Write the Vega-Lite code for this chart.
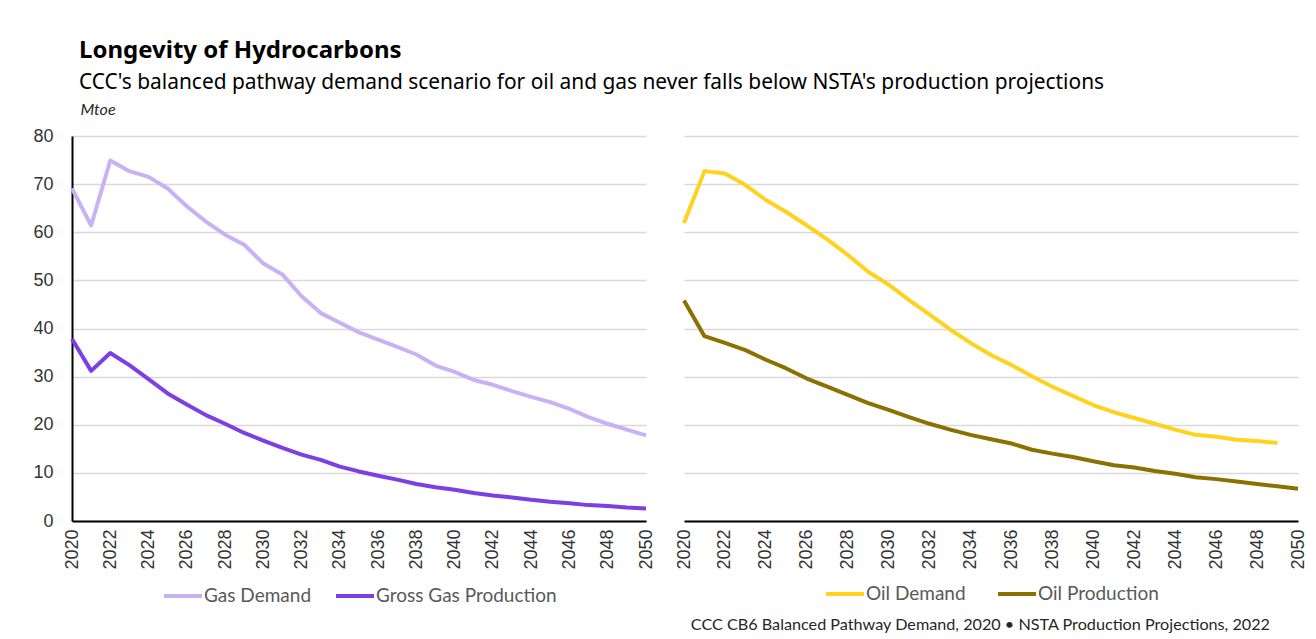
{
  "$schema": "https://vega.github.io/schema/vega-lite/v6.json",
  "padding": {"left": 32, "top": 39, "right": 8, "bottom": 4},
  "background": "white",
  "title": {
    "text": "Longevity of Hydrocarbons",
    "subtitle": "CCC's balanced pathway demand scenario for oil and gas never falls below NSTA's production projections",
    "anchor": "start",
    "frame": "bounds",
    "dx": 46,
    "font": "Noto Sans",
    "fontSize": 24,
    "fontWeight": "bold",
    "color": "#000000",
    "subtitleFont": "Noto Sans",
    "subtitleFontSize": 20.9,
    "subtitleColor": "#000000",
    "subtitlePadding": 9,
    "offset": 8
  },
  "datasets": {
    "gas": [
      {"year": 2020, "series": "Gas Demand", "value": 69.1},
      {"year": 2021, "series": "Gas Demand", "value": 61.4},
      {"year": 2022, "series": "Gas Demand", "value": 74.9},
      {"year": 2023, "series": "Gas Demand", "value": 72.7},
      {"year": 2024, "series": "Gas Demand", "value": 71.5},
      {"year": 2025, "series": "Gas Demand", "value": 69.1},
      {"year": 2026, "series": "Gas Demand", "value": 65.4},
      {"year": 2027, "series": "Gas Demand", "value": 62.2},
      {"year": 2028, "series": "Gas Demand", "value": 59.5},
      {"year": 2029, "series": "Gas Demand", "value": 57.4},
      {"year": 2030, "series": "Gas Demand", "value": 53.5},
      {"year": 2031, "series": "Gas Demand", "value": 51.2},
      {"year": 2032, "series": "Gas Demand", "value": 46.7},
      {"year": 2033, "series": "Gas Demand", "value": 43.2},
      {"year": 2034, "series": "Gas Demand", "value": 41.2},
      {"year": 2035, "series": "Gas Demand", "value": 39.2},
      {"year": 2036, "series": "Gas Demand", "value": 37.7},
      {"year": 2037, "series": "Gas Demand", "value": 36.2},
      {"year": 2038, "series": "Gas Demand", "value": 34.6},
      {"year": 2039, "series": "Gas Demand", "value": 32.3},
      {"year": 2040, "series": "Gas Demand", "value": 31.0},
      {"year": 2041, "series": "Gas Demand", "value": 29.3},
      {"year": 2042, "series": "Gas Demand", "value": 28.3},
      {"year": 2043, "series": "Gas Demand", "value": 27.0},
      {"year": 2044, "series": "Gas Demand", "value": 25.8},
      {"year": 2045, "series": "Gas Demand", "value": 24.7},
      {"year": 2046, "series": "Gas Demand", "value": 23.3},
      {"year": 2047, "series": "Gas Demand", "value": 21.6},
      {"year": 2048, "series": "Gas Demand", "value": 20.2},
      {"year": 2049, "series": "Gas Demand", "value": 19.0},
      {"year": 2050, "series": "Gas Demand", "value": 17.8},
      {"year": 2020, "series": "Gross Gas Production", "value": 37.8},
      {"year": 2021, "series": "Gross Gas Production", "value": 31.2},
      {"year": 2022, "series": "Gross Gas Production", "value": 34.9},
      {"year": 2023, "series": "Gross Gas Production", "value": 32.4},
      {"year": 2024, "series": "Gross Gas Production", "value": 29.5},
      {"year": 2025, "series": "Gross Gas Production", "value": 26.5},
      {"year": 2026, "series": "Gross Gas Production", "value": 24.2},
      {"year": 2027, "series": "Gross Gas Production", "value": 22.0},
      {"year": 2028, "series": "Gross Gas Production", "value": 20.2},
      {"year": 2029, "series": "Gross Gas Production", "value": 18.3},
      {"year": 2030, "series": "Gross Gas Production", "value": 16.7},
      {"year": 2031, "series": "Gross Gas Production", "value": 15.2},
      {"year": 2032, "series": "Gross Gas Production", "value": 13.8},
      {"year": 2033, "series": "Gross Gas Production", "value": 12.7},
      {"year": 2034, "series": "Gross Gas Production", "value": 11.3},
      {"year": 2035, "series": "Gross Gas Production", "value": 10.3},
      {"year": 2036, "series": "Gross Gas Production", "value": 9.4},
      {"year": 2037, "series": "Gross Gas Production", "value": 8.6},
      {"year": 2038, "series": "Gross Gas Production", "value": 7.7},
      {"year": 2039, "series": "Gross Gas Production", "value": 7.0},
      {"year": 2040, "series": "Gross Gas Production", "value": 6.5},
      {"year": 2041, "series": "Gross Gas Production", "value": 5.8},
      {"year": 2042, "series": "Gross Gas Production", "value": 5.3},
      {"year": 2043, "series": "Gross Gas Production", "value": 4.9},
      {"year": 2044, "series": "Gross Gas Production", "value": 4.4},
      {"year": 2045, "series": "Gross Gas Production", "value": 4.0},
      {"year": 2046, "series": "Gross Gas Production", "value": 3.7},
      {"year": 2047, "series": "Gross Gas Production", "value": 3.3},
      {"year": 2048, "series": "Gross Gas Production", "value": 3.1},
      {"year": 2049, "series": "Gross Gas Production", "value": 2.8},
      {"year": 2050, "series": "Gross Gas Production", "value": 2.6}
    ],
    "oil": [
      {"year": 2020, "series": "Oil Demand", "value": 61.9},
      {"year": 2021, "series": "Oil Demand", "value": 72.7},
      {"year": 2022, "series": "Oil Demand", "value": 72.2},
      {"year": 2023, "series": "Oil Demand", "value": 69.8},
      {"year": 2024, "series": "Oil Demand", "value": 66.7},
      {"year": 2025, "series": "Oil Demand", "value": 64.2},
      {"year": 2026, "series": "Oil Demand", "value": 61.4},
      {"year": 2027, "series": "Oil Demand", "value": 58.5},
      {"year": 2028, "series": "Oil Demand", "value": 55.3},
      {"year": 2029, "series": "Oil Demand", "value": 51.8},
      {"year": 2030, "series": "Oil Demand", "value": 49.1},
      {"year": 2031, "series": "Oil Demand", "value": 45.9},
      {"year": 2032, "series": "Oil Demand", "value": 42.9},
      {"year": 2033, "series": "Oil Demand", "value": 39.8},
      {"year": 2034, "series": "Oil Demand", "value": 37.0},
      {"year": 2035, "series": "Oil Demand", "value": 34.5},
      {"year": 2036, "series": "Oil Demand", "value": 32.4},
      {"year": 2037, "series": "Oil Demand", "value": 30.1},
      {"year": 2038, "series": "Oil Demand", "value": 27.9},
      {"year": 2039, "series": "Oil Demand", "value": 26.0},
      {"year": 2040, "series": "Oil Demand", "value": 24.1},
      {"year": 2041, "series": "Oil Demand", "value": 22.6},
      {"year": 2042, "series": "Oil Demand", "value": 21.4},
      {"year": 2043, "series": "Oil Demand", "value": 20.2},
      {"year": 2044, "series": "Oil Demand", "value": 19.0},
      {"year": 2045, "series": "Oil Demand", "value": 17.9},
      {"year": 2046, "series": "Oil Demand", "value": 17.5},
      {"year": 2047, "series": "Oil Demand", "value": 16.9},
      {"year": 2048, "series": "Oil Demand", "value": 16.6},
      {"year": 2049, "series": "Oil Demand", "value": 16.2},
      {"year": 2020, "series": "Oil Production", "value": 45.8},
      {"year": 2021, "series": "Oil Production", "value": 38.4},
      {"year": 2022, "series": "Oil Production", "value": 37.0},
      {"year": 2023, "series": "Oil Production", "value": 35.5},
      {"year": 2024, "series": "Oil Production", "value": 33.5},
      {"year": 2025, "series": "Oil Production", "value": 31.7},
      {"year": 2026, "series": "Oil Production", "value": 29.6},
      {"year": 2027, "series": "Oil Production", "value": 27.9},
      {"year": 2028, "series": "Oil Production", "value": 26.2},
      {"year": 2029, "series": "Oil Production", "value": 24.5},
      {"year": 2030, "series": "Oil Production", "value": 23.1},
      {"year": 2031, "series": "Oil Production", "value": 21.6},
      {"year": 2032, "series": "Oil Production", "value": 20.2},
      {"year": 2033, "series": "Oil Production", "value": 19.0},
      {"year": 2034, "series": "Oil Production", "value": 17.9},
      {"year": 2035, "series": "Oil Production", "value": 17.0},
      {"year": 2036, "series": "Oil Production", "value": 16.1},
      {"year": 2037, "series": "Oil Production", "value": 14.8},
      {"year": 2038, "series": "Oil Production", "value": 14.0},
      {"year": 2039, "series": "Oil Production", "value": 13.3},
      {"year": 2040, "series": "Oil Production", "value": 12.4},
      {"year": 2041, "series": "Oil Production", "value": 11.6},
      {"year": 2042, "series": "Oil Production", "value": 11.1},
      {"year": 2043, "series": "Oil Production", "value": 10.4},
      {"year": 2044, "series": "Oil Production", "value": 9.8},
      {"year": 2045, "series": "Oil Production", "value": 9.1},
      {"year": 2046, "series": "Oil Production", "value": 8.7},
      {"year": 2047, "series": "Oil Production", "value": 8.2},
      {"year": 2048, "series": "Oil Production", "value": 7.7},
      {"year": 2049, "series": "Oil Production", "value": 7.2},
      {"year": 2050, "series": "Oil Production", "value": 6.7}
    ]
  },
  "hconcat": [
    {
      "width": 574,
      "height": 385,
      "data": {"name": "gas"},
      "mark": {"type": "line", "strokeWidth": 4, "strokeJoin": "round"},
      "encoding": {
        "x": {
          "field": "year", "type": "quantitative",
          "scale": {"domain": [2020, 2050], "nice": false, "zero": false},
          "axis": {"values": [2020, 2022, 2024, 2026, 2028, 2030, 2032, 2034, 2036, 2038, 2040, 2042, 2044, 2046, 2048, 2050], "format": "d", "labelAngle": -90, "title": null, "grid": false, "ticks": false, "labelPadding": 8}
        },
        "y": {
          "field": "value", "type": "quantitative",
          "scale": {"domain": [0, 80], "nice": false},
          "axis": {"values": [0, 10, 20, 30, 40, 50, 60, 70, 80], "title": "Mtoe", "titleAngle": 0, "titleAlign": "left", "titleBaseline": "alphabetic", "titleX": 8, "titleY": -22, "titleFont": "Lato", "titleFontSize": 16, "titleFontStyle": "italic", "titleFontWeight": "normal", "titleColor": "#262626", "grid": true, "ticks": false, "labelPadding": 19, "domain": true}
        },
        "color": {
          "field": "series", "type": "nominal",
          "scale": {"domain": ["Gas Demand", "Gross Gas Production"], "range": ["#C9B2F4", "#7B3FE4"]},
          "legend": {"title": null, "orient": "bottom", "direction": "horizontal", "offset": 5}
        }
      }
    },
    {
      "width": 614,
      "height": 385,
      "data": {"name": "oil"},
      "title": {"text": "CCC CB6 Balanced Pathway Demand, 2020 • NSTA Production Projections, 2022", "orient": "bottom", "anchor": "end", "frame": "group", "dx": -28, "offset": 13, "font": "Lato", "fontSize": 16.2, "fontWeight": "normal", "color": "#262626"},
      "mark": {"type": "line", "strokeWidth": 4, "strokeJoin": "round"},
      "encoding": {
        "x": {
          "field": "year", "type": "quantitative",
          "scale": {"domain": [2020, 2050], "nice": false, "zero": false},
          "axis": {"values": [2020, 2022, 2024, 2026, 2028, 2030, 2032, 2034, 2036, 2038, 2040, 2042, 2044, 2046, 2048, 2050], "format": "d", "labelAngle": -90, "title": null, "grid": false, "ticks": false, "labelPadding": 8}
        },
        "y": {
          "field": "value", "type": "quantitative",
          "scale": {"domain": [0, 80], "nice": false},
          "axis": {"values": [0, 10, 20, 30, 40, 50, 60, 70, 80], "title": null, "labels": false, "ticks": false, "domain": false, "grid": true}
        },
        "color": {
          "field": "series", "type": "nominal",
          "scale": {"domain": ["Oil Demand", "Oil Production"], "range": ["#FFD21F", "#8B7100"]},
          "legend": {"title": null, "orient": "bottom", "direction": "horizontal", "offset": 3, "columnPadding": 24}
        }
      }
    }
  ],
  "spacing": 38,
  "bounds": "flush",
  "resolve": {"scale": {"color": "independent", "x": "independent", "y": "independent"}, "legend": {"color": "independent"}, "axis": {"x": "independent", "y": "independent"}},
  "config": {
    "view": {"stroke": null},
    "axis": {
      "labelFont": "Liberation Sans",
      "labelFontSize": 18,
      "labelColor": "#333333",
      "domainColor": "#000000",
      "domainWidth": 2,
      "gridColor": "#D9D9D9",
      "gridWidth": 1.5
    },
    "legend": {
      "symbolType": "stroke",
      "symbolStrokeWidth": 4,
      "symbolSize": 1444,
      "labelFont": "Lato",
      "labelFontSize": 19,
      "labelColor": "#595959",
      "labelOffset": 0,
      "labelLimit": 400,
      "columnPadding": 16,
      "layout": {"bottom": {"anchor": "middle"}}
    }
  }
}
